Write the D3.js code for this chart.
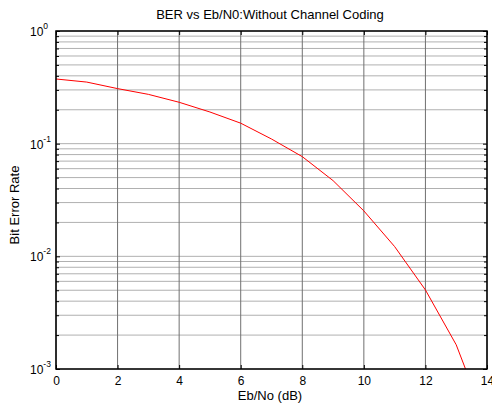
<!DOCTYPE html>
<html><head><meta charset="utf-8">
<script src="https://cdn.jsdelivr.net/npm/d3@7"></script>
<style>body{margin:0;background:#fff}svg{display:block}text{font-family:"Liberation Sans",Arial,sans-serif}</style>
</head><body>
<svg id="c" width="492" height="409"></svg>
<script>
const ebno = [0,1,2,3,4,5,6,7,8,9,10,11,12,13,14];
const ber = [0.375,0.352,0.308,0.274,0.233,0.191,0.152,0.110,0.0767,0.047,0.0253,0.0122,0.00503,0.00164,0.00032];
const xTicks = [0,2,4,6,8,10,12,14];
const yTicks = [1e-3,1e-2,1e-1,1];
const yExp = ["-3","-2","-1","0"];
const title = "BER vs Eb/N0:Without Channel Coding";
const xLabel = "Eb/No (dB)";
const yLabel = "Bit Error Rate";

const svg = d3.select("#c");
const L=56,R=487,T=31,B=369;
const x = d3.scaleLinear().domain([0,14]).range([L,R]);
const y = d3.scaleLog().domain([1e-3,1]).range([B,T]);
const minor = [];
for (let e=-3;e<0;e++) for (let k=2;k<=9;k++) minor.push(k*Math.pow(10,e));

// horizontal grid
svg.append("g").selectAll("line").data(yTicks.concat(minor)).join("line")
  .attr("x1",L).attr("x2",R).attr("y1",d=>y(d)).attr("y2",d=>y(d))
  .attr("stroke","#b0b0b0").attr("stroke-width",1);
// vertical grid
svg.append("g").selectAll("line").data(xTicks).join("line")
  .attr("x1",d=>x(d)).attr("x2",d=>x(d)).attr("y1",T).attr("y2",B)
  .attr("stroke","#707070").attr("stroke-width",1);

// curve
svg.append("defs").append("clipPath").attr("id","clip").append("rect")
  .attr("x",L).attr("y",T).attr("width",R-L).attr("height",B-T);
svg.append("path").datum(ebno.map((v,i)=>[v,ber[i]]))
  .attr("clip-path","url(#clip)")
  .attr("d",d3.line().x(d=>x(d[0])).y(d=>y(d[1])))
  .attr("fill","none").attr("stroke","#ff0000").attr("stroke-width",1);

// axes with inward ticks
const gx = svg.append("g").attr("transform",`translate(0,${B})`)
  .call(d3.axisBottom(x).tickValues(xTicks).tickSizeInner(-4).tickSizeOuter(0).tickFormat(d3.format("d")));
gx.selectAll("text").attr("dy",null).attr("y",16).attr("font-size",12).attr("fill","#000");
svg.append("g").attr("transform",`translate(0,${T})`)
  .call(d3.axisTop(x).tickValues(xTicks).tickSizeInner(-4).tickSizeOuter(0).tickFormat(""));
svg.append("g").attr("transform",`translate(${L},0)`)
  .call(d3.axisLeft(y).tickValues(yTicks).tickSizeInner(-4).tickSizeOuter(0).tickFormat(""));
svg.append("g").attr("transform",`translate(${L},0)`)
  .call(d3.axisLeft(y).tickValues(minor).tickSizeInner(-3).tickSizeOuter(0).tickFormat(""));
svg.append("g").attr("transform",`translate(${R},0)`)
  .call(d3.axisRight(y).tickValues(yTicks).tickSizeInner(-4).tickSizeOuter(0).tickFormat(""));
svg.append("g").attr("transform",`translate(${R},0)`)
  .call(d3.axisRight(y).tickValues(minor).tickSizeInner(-3).tickSizeOuter(0).tickFormat(""));
svg.selectAll(".domain").remove();
svg.selectAll(".tick line").attr("stroke","#000");

// y tick labels 10^n
const yl = svg.append("g");
yTicks.forEach((t,i)=>{
  const tx = yl.append("text").attr("x",30).attr("y",y(t)+5).attr("text-anchor","start").attr("font-size",12);
  tx.append("tspan").text("10");
  tx.append("tspan").attr("dy",-7).attr("font-size",8.5).text(yExp[i]);
});

// box
svg.append("rect").attr("x",L).attr("y",T).attr("width",R-L).attr("height",B-T)
  .attr("fill","none").attr("stroke","#000").attr("stroke-width",1.5);

svg.append("text").attr("x",270).attr("y",T-12).attr("text-anchor","middle").attr("font-size",13).text(title);
svg.append("text").attr("x",270).attr("y",B+31).attr("text-anchor","middle").attr("font-size",13).text(xLabel);
svg.append("text").attr("transform",`translate(19,${(T+B)/2 + 5}) rotate(-90)`).attr("text-anchor","middle").attr("font-size",13).text(yLabel);
</script>
</body></html>
